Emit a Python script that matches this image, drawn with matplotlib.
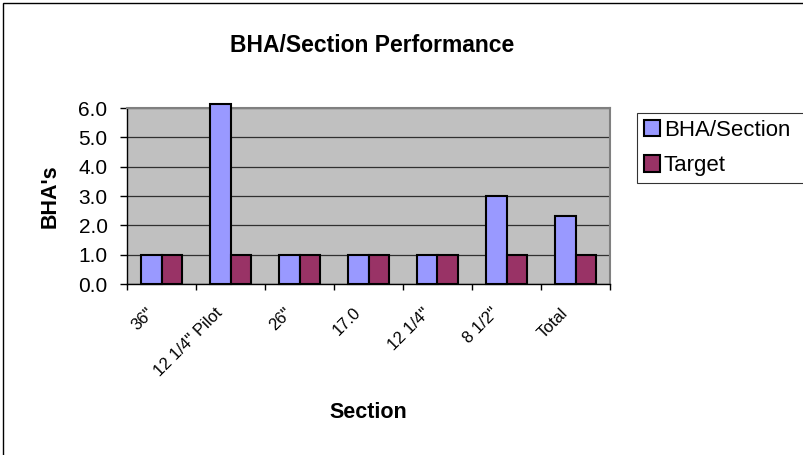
import numpy as np
import matplotlib
matplotlib.use("Agg")
import matplotlib.pyplot as plt
import matplotlib.transforms as mtransforms
from matplotlib.patches import Rectangle

plt.rcParams['font.family'] = ['Liberation Sans', 'DejaVu Sans']

sections = ['36"', '12 1/4" Pilot', '26"', '17.0', '12 1/4"', '8 1/2"', 'Total']
bha_per_section = [1.0, 6.15, 1.0, 1.0, 1.0, 3.0, 2.33]
target = [1.0, 1.0, 1.0, 1.0, 1.0, 1.0, 1.0]

fig = plt.figure(figsize=(8.04, 4.55), dpi=100)
W, H = 804, 455
ax = fig.add_axes([127 / W, 1 - 284 / H, (610 - 127) / W, (284 - 108) / H])
ax.set_facecolor('#C0C0C0')

x = np.arange(len(sections))
w = 0.29
ax.bar(x - w / 2, bha_per_section, w, color='#9999FF', edgecolor='black',
       linewidth=1.5, label='BHA/Section', zorder=3, clip_on=False)
ax.bar(x + w / 2, target, w, color='#993366', edgecolor='black',
       linewidth=1.5, label='Target', zorder=3)

ax.set_xlim(-0.5, len(sections) - 0.5)
ax.set_ylim(0, 6)
ax.set_yticks(np.arange(0, 7, 1))
ax.set_yticklabels([f'{v:.1f}' for v in range(7)], fontsize=15)
ax.yaxis.grid(True, color='#303030', linewidth=0.9, zorder=1)
ax.set_axisbelow(True)

# category labels sit between the boundary ticks
ax.set_xticks(np.arange(-0.5, len(sections), 1))
ax.set_xticklabels([])
ax.set_xticks(x, minor=True)
ax.set_xticklabels(sections, minor=True, rotation=45, ha='right', va='center',
                   rotation_mode='anchor', fontsize=12)
ax.tick_params(axis='x', which='minor', length=0, pad=19)
ax.tick_params(axis='x', which='major', direction='out', length=4, width=1)
ax.tick_params(axis='y', direction='out', length=5, width=1, pad=9)
shift = mtransforms.ScaledTranslation(-10 / 100, 0, fig.dpi_scale_trans)
for lbl in ax.get_xticklabels(minor=True):
    lbl.set_transform(lbl.get_transform() + shift)

for side in ['top', 'right']:
    ax.spines[side].set_color('#808080')
    ax.spines[side].set_linewidth(1.5)
for side in ['left', 'bottom']:
    ax.spines[side].set_color('black')
    ax.spines[side].set_linewidth(1)

ax.set_ylabel("BHA's", fontsize=15.5, fontweight='bold', va='center')
ax.yaxis.set_label_coords((50 - 127) / 483, 0.5)
ax.set_xlabel('Section', fontsize=15.5, fontweight='bold', va='center')
ax.xaxis.set_label_coords(0.5, (284 - 412) / 176)
fig.text(372 / W, 1 - 46 / H, 'BHA/Section Performance', ha='center',
         va='center', fontsize=16.5, fontweight='bold')

# legend box is wider than the space left, so it runs off the right edge
leg = fig.legend(loc='upper left', mode='expand',
                 bbox_to_anchor=(637 / W, 1 - 113 / H, 190 / W, 0),
                 frameon=True, fancybox=False, fontsize=16, handlelength=0.75,
                 handleheight=0.75, handletextpad=0.15, borderpad=0.3,
                 labelspacing=0.65, borderaxespad=0)
leg.get_frame().set_edgecolor('black')
leg.get_frame().set_linewidth(0.8)

# outer chart border runs off the right and bottom edges
fig.patches.append(Rectangle((3.5 / W, -0.05), 1.0, 1 - 3.5 / H + 0.05,
                             fill=False, edgecolor='black', linewidth=1,
                             transform=fig.transFigure))

fig.savefig('out.png', dpi=100)
